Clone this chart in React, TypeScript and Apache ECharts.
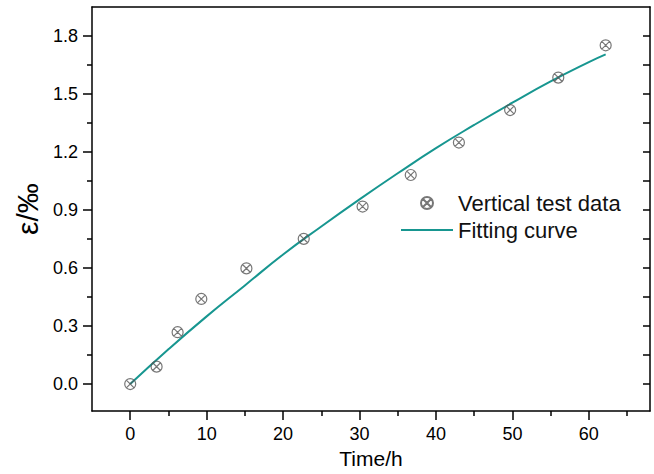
import React, { useEffect, useRef } from "react";
import * as echarts from "echarts";

const testX = [0, 3.45, 6.2, 9.3, 15.2, 22.7, 30.4, 36.7, 43.0, 49.7, 56.0, 62.2];
const testY = [0, 0.09, 0.268, 0.44, 0.598, 0.751, 0.918, 1.081, 1.249, 1.417, 1.585, 1.752];

const fitX = [0, 5, 10, 15, 20, 25, 30, 35, 40, 45, 50, 55, 60, 62.2];
const fitY = [0, 0.18, 0.35, 0.51, 0.67, 0.815, 0.955, 1.09, 1.22, 1.34, 1.455, 1.565, 1.665, 1.705];

const xMajor = [0, 10, 20, 30, 40, 50, 60];
const xMinor = [5, 15, 25, 35, 45, 55, 65];
const yMajor = [0, 0.3, 0.6, 0.9, 1.2, 1.5, 1.8];
const yMinor = [0.15, 0.45, 0.75, 1.05, 1.35, 1.65];
const yAll = [0, 0.15, 0.3, 0.45, 0.6, 0.75, 0.9, 1.05, 1.2, 1.35, 1.5, 1.65, 1.8];

const X_MIN = -5;
const X_MAX = 68;
const Y_MIN = -0.14;
const Y_MAX = 1.95;

const W = 654;
const H = 474;

const FONT = "Liberation Sans";
const MARKER =
  "path://M10,0A10,10,0,1,1,-10,0A10,10,0,1,1,10,0ZM-7.07,-7.07L7.07,7.07M7.07,-7.07L-7.07,7.07";

export default function App() {
  const ref = useRef<HTMLDivElement>(null);
  useEffect(() => {
    if (!ref.current) return;
    document.body.style.margin = "0";
    document.documentElement.style.overflow = "hidden";
    const chart = echarts.init(ref.current, undefined, { renderer: "svg" });
    const black = "#000";
    const mkLine = () => ({ show: true, onZero: false, lineStyle: { color: black, width: 1.5 } });
    const baseX = {
      type: "value",
      min: X_MIN,
      max: X_MAX,
      splitLine: { show: false },
    };
    const baseY = {
      type: "value",
      min: Y_MIN,
      max: Y_MAX,
      splitLine: { show: false },
    };
    chart.setOption({
      animation: false,
      backgroundColor: "#fff",
      grid: { left: 92, top: 7, right: 4, bottom: 56 },
      legend: {
        orient: "vertical",
        left: 400,
        top: 192,
        padding: 0,
        itemWidth: 52,
        itemHeight: 12,
        itemGap: 5,
        textStyle: { fontFamily: FONT, fontSize: 22, color: "#111" },
        data: [
          { name: "Vertical test data" },
          { name: "Fitting curve", itemStyle: { opacity: 0 } },
        ],
      },
      xAxis: [
        {
          ...baseX,
          position: "bottom",
          name: "Time/h",
          nameLocation: "middle",
          nameGap: 33,
          nameTextStyle: { fontFamily: FONT, fontSize: 21, color: black },
          axisLine: mkLine(),
          axisTick: {
            show: true,
            inside: false,
            length: 9,
            customValues: xMajor,
            lineStyle: { color: black, width: 1.5 },
          },
          axisLabel: {
            customValues: xMajor,
            margin: 14,
            fontFamily: FONT,
            fontSize: 18,
            color: black,
            formatter: (v: number) => String(v),
          },
        },
        {
          ...baseX,
          position: "bottom",
          axisLine: { show: false, onZero: false },
          axisTick: {
            show: true,
            inside: false,
            length: 5,
            customValues: xMinor,
            lineStyle: { color: black, width: 1.5 },
          },
          axisLabel: { show: false },
        },
        {
          ...baseX,
          position: "top",
          axisLine: mkLine(),
          axisTick: { show: false },
          axisLabel: { show: false },
        },
      ],
      yAxis: [
        {
          ...baseY,
          position: "left",
          name: "ε/‰",
          nameLocation: "middle",
          nameGap: 48,
          nameRotate: 90,
          nameTextStyle: { fontFamily: FONT, fontSize: 30, color: black },
          axisLine: mkLine(),
          axisTick: {
            show: true,
            inside: false,
            length: 9,
            customValues: yMajor,
            lineStyle: { color: black, width: 1.5 },
          },
          axisLabel: {
            customValues: yMajor,
            margin: 14,
            fontFamily: FONT,
            fontSize: 18,
            color: black,
            formatter: (v: number) => v.toFixed(1),
          },
        },
        {
          ...baseY,
          position: "left",
          axisLine: { show: false, onZero: false },
          axisTick: {
            show: true,
            inside: false,
            length: 5,
            customValues: yMinor,
            lineStyle: { color: black, width: 1.5 },
          },
          axisLabel: { show: false },
        },
        {
          ...baseY,
          position: "right",
          axisLine: mkLine(),
          axisTick: {
            show: true,
            inside: true,
            length: 7,
            customValues: yAll,
            lineStyle: { color: black, width: 1.5 },
          },
          axisLabel: { show: false },
        },
      ],
      series: [
        {
          name: "Fitting curve",
          type: "line",
          xAxisIndex: 0,
          yAxisIndex: 0,
          data: fitX.map((x, i) => [x, fitY[i]]),
          smooth: true,
          symbol: "none",
          lineStyle: { color: "#179690", width: 2 },
          itemStyle: { color: "#179690" },
          z: 2,
        },
        {
          name: "Vertical test data",
          type: "scatter",
          xAxisIndex: 0,
          yAxisIndex: 0,
          data: testX.map((x, i) => [x, testY[i]]),
          symbol: MARKER,
          symbolSize: 11,
          symbolKeepAspect: true,
          itemStyle: {
            color: "rgba(255,255,255,0)",
            borderColor: "#555",
            borderWidth: 1.2,
          },
          z: 3,
        },
      ],
    });
    return () => chart.dispose();
  }, []);
  return <div ref={ref} style={{ width: W, height: H }} />;
}
